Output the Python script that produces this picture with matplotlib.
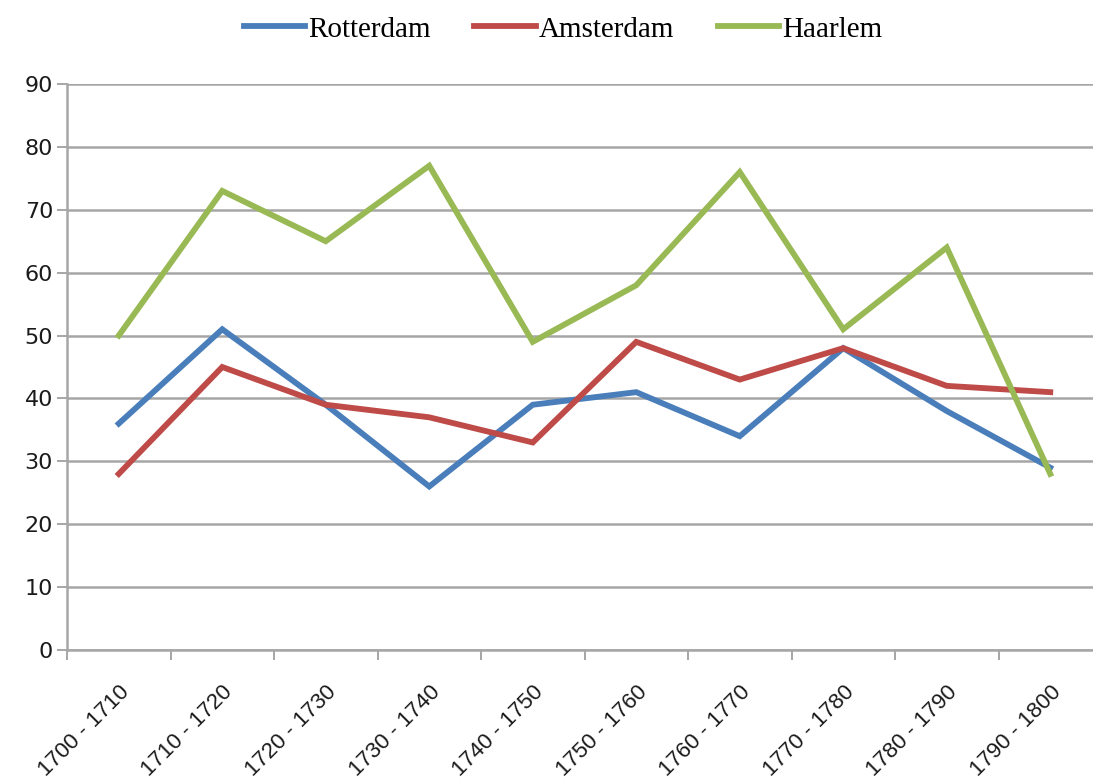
import matplotlib
matplotlib.use("Agg")
import matplotlib.pyplot as plt
import numpy as np

periods = ["1700 - 1710", "1710 - 1720", "1720 - 1730", "1730 - 1740", "1740 - 1750",
           "1750 - 1760", "1760 - 1770", "1770 - 1780", "1780 - 1790", "1790 - 1800"]
rotterdam = [36, 51, 39, 26, 39, 41, 34, 48, 38, 29]
amsterdam = [28, 45, 39, 37, 33, 49, 43, 48, 42, 41]
haarlem = [50, 73, 65, 77, 49, 58, 76, 51, 64, 28]

names = ["Rotterdam", "Amsterdam", "Haarlem"]
COLORS = ["#4a7ebb", "#be4b48", "#98b954"]
GRID = "#a6a6a6"
INK = "#1a1a1a"

fig = plt.figure(figsize=(10.93, 7.80), dpi=100)
ax = fig.add_axes([67 / 1093, 130 / 780, 1035 / 1093, 566 / 780])

x = np.arange(len(periods))
for vals, name, col in zip([rotterdam, amsterdam, haarlem], names, COLORS):
    ax.plot(x, vals, color=col, lw=4.2, label=name, solid_joinstyle="miter", zorder=3)

ax.set_xlim(-0.5, len(periods) - 0.5)
ax.set_ylim(0, 90)
ax.set_yticks(range(0, 91, 10))
ax.yaxis.grid(True, color=GRID, lw=1.8)
ax.set_axisbelow(True)

# category boundaries as major ticks, labels on minor ticks
ax.set_xticks(np.arange(-0.5, len(periods), 1.0))
ax.set_xticklabels([])
ax.set_xticks(x, minor=True)
ax.set_xticklabels(periods, minor=True, rotation=45, ha="right",
                   rotation_mode="anchor", fontsize=16, family="Liberation Sans",
                   color=INK)
ax.tick_params(axis="x", which="minor", length=0, pad=23)
ax.tick_params(axis="x", which="major", length=7, width=1.4, color=GRID, direction="out")
ax.tick_params(axis="y", length=7, width=1.4, color=GRID, labelsize=16,
               labelcolor=INK, pad=3)
for lab in ax.get_yticklabels():
    lab.set_family("DejaVu Sans")

for s in ["top", "right"]:
    ax.spines[s].set_visible(False)
for s in ["left", "bottom"]:
    ax.spines[s].set_color(GRID)
    ax.spines[s].set_linewidth(1.8)

fig.legend(loc="upper center", bbox_to_anchor=(0.515, 1.013), ncol=3, frameon=False,
           prop={"family": "Liberation Serif", "size": 21}, handlelength=2.1,
           handletextpad=0.1, columnspacing=1.5)

fig.savefig("out.png", dpi=100, facecolor="white")
